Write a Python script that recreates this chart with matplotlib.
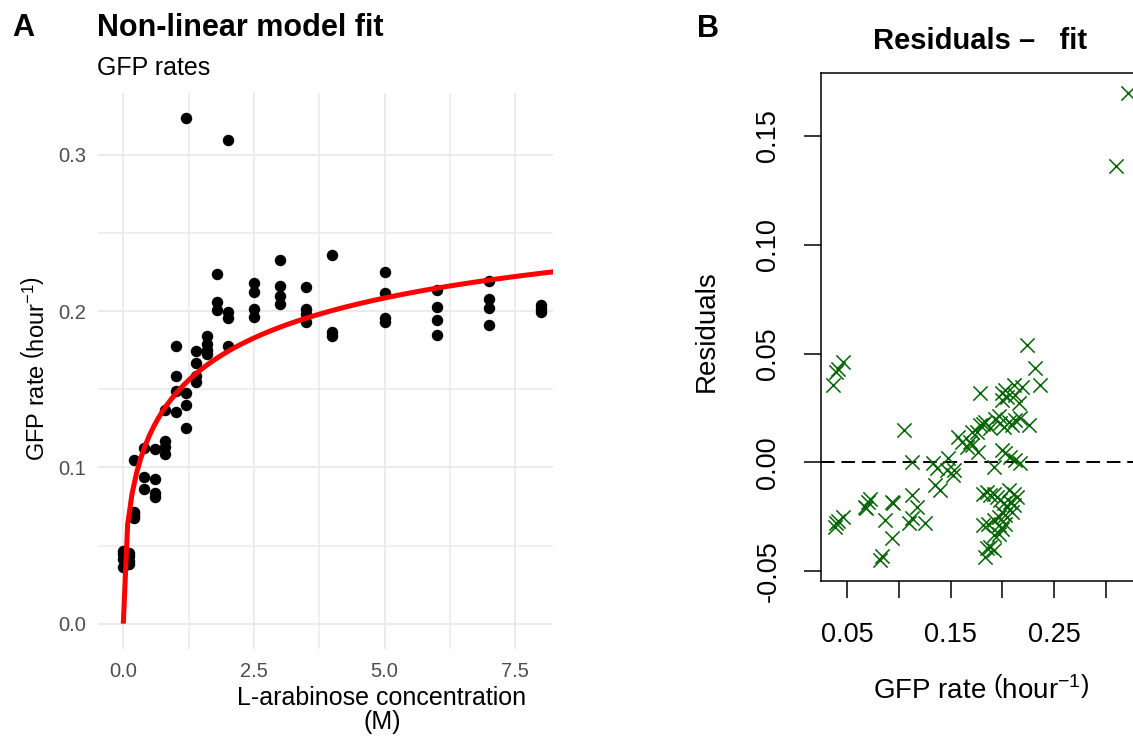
import numpy as np
import matplotlib
matplotlib.use('Agg')
import matplotlib.pyplot as plt

W, H = 1133, 737

# panel A data: GFP rate vs arabinose concentration
conc = [0, 0, 0, 0,
        0.1, 0.1, 0.1, 0.1,
        0.2, 0.2, 0.2, 0.2, 0.2,
        0.4, 0.4, 0.4,
        0.6, 0.6, 0.6, 0.6,
        0.8, 0.8, 0.8, 0.8,
        1.0, 1.0, 1.0, 1.0,
        1.2, 1.2, 1.2, 1.2,
        1.4, 1.4, 1.4, 1.4,
        1.6, 1.6, 1.6, 1.6,
        1.8, 1.8, 1.8,
        2.0, 2.0, 2.0, 2.0,
        2.5, 2.5, 2.5, 2.5,
        3.0, 3.0, 3.0, 3.0,
        3.5, 3.5, 3.5, 3.5,
        4.0, 4.0, 4.0,
        5.0, 5.0, 5.0, 5.0,
        6.0, 6.0, 6.0, 6.0,
        7.0, 7.0, 7.0, 7.0,
        8.0, 8.0, 8.0]
rate = [0.036, 0.0415, 0.0445, 0.0468,
        0.038, 0.040, 0.043, 0.045,
        0.0675, 0.069, 0.0705, 0.0714, 0.1044,
        0.0863, 0.0937, 0.1123,
        0.081, 0.0837, 0.0925, 0.112,
        0.1086, 0.1129, 0.117, 0.1368,
        0.1355, 0.1491, 0.1587, 0.1778,
        0.1255, 0.1399, 0.1478, 0.3233,
        0.1544, 0.1587, 0.1668, 0.1742,
        0.1725, 0.1753, 0.1789, 0.1838,
        0.2006, 0.2058, 0.2236,
        0.1774, 0.1953, 0.1996, 0.3095,
        0.196, 0.2013, 0.2119, 0.2177,
        0.2045, 0.2094, 0.2162, 0.2326,
        0.1928, 0.1981, 0.2013, 0.2151,
        0.1842, 0.1864, 0.2358,
        0.1928, 0.1953, 0.2113, 0.2249,
        0.1847, 0.1942, 0.2028, 0.2136,
        0.1913, 0.2017, 0.2077, 0.2194,
        0.1992, 0.2013, 0.2038]

# fitted model (Hill type) parameters
Vmax = 0.3146
Kd = 1.30
n_hill = 0.5

# panel B data: observed GFP rate vs residual
res_x = [0.036, 0.0393, 0.041, 0.0457,
         0.0377, 0.0393, 0.0409, 0.0457,
         0.0668, 0.0684, 0.0700, 0.0717,
         0.0814, 0.0835, 0.0862, 0.0927, 0.0927, 0.0943,
         0.1047, 0.1121, 0.1121, 0.1170, 0.1095, 0.1121, 0.1250,
         0.1331, 0.1365, 0.1348, 0.1396, 0.1477, 0.1460, 0.1520, 0.1535,
         0.1574, 0.1606, 0.1655, 0.1687, 0.1703, 0.1703,
         0.1750, 0.1784, 0.1816, 0.1832, 0.1768, 0.1784, 0.1914,
         0.1881, 0.1930, 0.1962,
         0.1995, 0.2027, 0.2043, 0.1995,
         0.2109, 0.2189, 0.2124, 0.2157,
         0.1995, 0.2027, 0.2076, 0.2124, 0.2173,
         0.1979, 0.2011, 0.2060, 0.2092, 0.2124, 0.2173,
         0.2253, 0.2238, 0.2318, 0.2367,
         0.1816, 0.1848, 0.1881, 0.1914, 0.1946,
         0.1979, 0.2011, 0.2043, 0.2076, 0.2109, 0.2060, 0.2109, 0.2141,
         0.1995, 0.2027, 0.1962, 0.2092,
         0.1816, 0.1865, 0.1914,
         0.1962, 0.1995, 0.2027,
         0.1848, 0.1881, 0.1914, 0.1832,
         0.1914, 0.1962,
         0.3095, 0.3218]
res_y = [0.0355, 0.0416, 0.043, 0.0460,
         -0.0296, -0.0280, -0.0270, -0.0250,
         -0.0204, -0.0211, -0.0181, -0.0166,
         -0.0449, -0.0430, -0.0265, -0.0349, -0.0181, -0.0188,
         0.0148, 0.0003, -0.0150, -0.0204, -0.0280, -0.0257, -0.0280,
         -0.0005, -0.0027, -0.0104, -0.0127, 0.0018, -0.0036, -0.0059, -0.0036,
         0.0118, 0.0095, 0.0072, 0.0095, 0.0079, 0.0140,
         0.0140, 0.0172, 0.0178, 0.0186, 0.0049, 0.0317, -0.0019,
         0.0160, 0.0198, 0.0213,
         0.0317, 0.0332, 0.0301, 0.0286,
         0.0355, 0.0347, 0.0309, 0.0271,
         0.0057, 0.0042, 0.0026, 0.0011, -0.0005,
         0.0180, 0.0164, 0.0187, 0.0172, 0.0195, 0.0202,
         0.0172, 0.0539, 0.0432, 0.0355,
         -0.0143, -0.0135, -0.0150, -0.0143, -0.0158,
         -0.0173, -0.0188, -0.0204, -0.0181, -0.0196, -0.0127, -0.0143, -0.0158,
         -0.0227, -0.0242, -0.0250, -0.0227,
         -0.0288, -0.0281, -0.0265,
         -0.0288, -0.0304, -0.0281,
         -0.0395, -0.0388, -0.0403, -0.0434,
         -0.0334, -0.0327,
         0.1362, 0.1699]

plt.rcParams['font.family'] = ['Liberation Sans', 'DejaVu Sans']
plt.rcParams['mathtext.fontset'] = 'custom'
plt.rcParams['mathtext.rm'] = 'Liberation Sans'
plt.rcParams['mathtext.it'] = 'Liberation Sans:italic'

fig = plt.figure(figsize=(W / 100, H / 100), dpi=100)


def fx(x):
    return x / W


def fy(y):
    return 1 - y / H


# ---- panel A ----
axA = fig.add_axes([fx(98.3), fy(649), (553.3 - 98.3) / W, (649 - 93) / H])
xmax = 8.226
axA.set_xlim(-0.478, xmax)
axA.set_ylim(-0.0162, 0.3395)
axA.set_xticks([0, 2.5, 5.0, 7.5])
axA.set_xticklabels(['0.0', '2.5', '5.0', '7.5'])
axA.set_yticks([0, 0.1, 0.2, 0.3])
axA.set_yticklabels(['0.0', '0.1', '0.2', '0.3'])
axA.set_xticks([1.25, 3.75, 6.25], minor=True)
axA.set_yticks([0.05, 0.15, 0.25], minor=True)
axA.grid(which='major', color='#EBEBEB', lw=1.4)
axA.grid(which='minor', color='#EBEBEB', lw=1.1)
axA.set_axisbelow(True)
for s in axA.spines.values():
    s.set_visible(False)
axA.tick_params(which='both', length=0, labelsize=14.5, labelcolor='#4D4D4D')
axA.tick_params(axis='y', pad=9)
axA.tick_params(axis='x', pad=9.5)

axA.scatter(conc, rate, s=68, color='black', zorder=2, linewidths=0)
cgrid = np.linspace(0, xmax, 100)
fit = Vmax * cgrid ** n_hill / (Kd ** n_hill + cgrid ** n_hill)
axA.plot(cgrid, fit, color='#FF0000', lw=3.6, zorder=3, solid_capstyle='butt')

fig.text(fx(12), fy(28), 'A', weight='bold', size=22, ha='left', va='center')
fig.text(fx(97), fy(28), 'Non-linear model fit', weight='bold', size=22, ha='left', va='center')
fig.text(fx(97), fy(68), 'GFP rates', size=18, ha='left', va='center')
fig.text(fx(382), fy(710), 'L-arabinose concentration\n(M)', size=18, ha='center',
         va='center', linespacing=0.95)
fig.text(fx(36), fy(368), r'GFP rate $\left(\mathrm{hour}^{-1}\right)$', size=17,
         rotation=90, ha='center', va='center')

# ---- panel B ----
axB = fig.add_axes([fx(821), fy(581), (1141 - 821) / W, (581 - 73.3) / H])
axB.set_xlim(0.0245, 0.334)
axB.set_ylim(-0.0545, 0.1788)
axB.scatter(res_x, res_y, marker='x', s=105, color='#006400', linewidths=1.1, zorder=3)
axB.axhline(0, color='black', lw=1.4, ls=(0, (7, 3.5)), zorder=2)

axB.set_xticks([0.05, 0.10, 0.15, 0.20, 0.25, 0.30])
axB.set_xticklabels(['0.05', '', '0.15', '', '0.25', ''])
axB.set_yticks([-0.05, 0.0, 0.05, 0.10, 0.15])
axB.set_yticklabels(['-0.05', '0.00', '0.05', '0.10', '0.15'], rotation=90, va='center')
axB.tick_params(direction='out', length=12.5, width=1.1, labelsize=19.5, colors='black')
axB.tick_params(axis='x', pad=17)
axB.tick_params(axis='y', pad=16)
for s in axB.spines.values():
    s.set_linewidth(1.1)

fig.text(fx(697), fy(29), 'B', weight='bold', size=22, ha='left', va='center')
fig.text(fx(980), fy(41), 'Residuals \u2013   fit', weight='bold', size=21,
         ha='center', va='center')
fig.text(fx(707), fy(331), 'Residuals', size=20, rotation=90, ha='center', va='center')
fig.text(fx(981), fy(690), r'GFP rate $\left(\mathrm{hour}^{-1}\right)$', size=20,
         ha='center', va='center')

fig.savefig('out.png', dpi=100)
